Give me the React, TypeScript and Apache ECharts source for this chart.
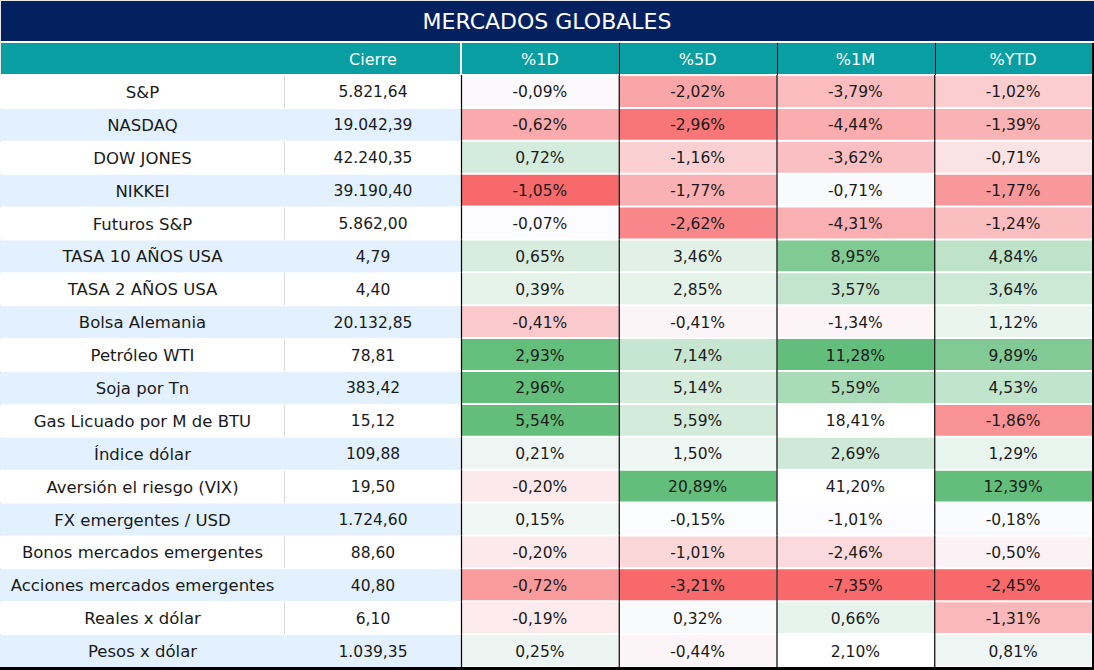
import React, { useEffect, useRef } from "react";
import * as echarts from "echarts";

const titleText = "MERCADOS GLOBALES";
const cierreHeader = ["Cierre"];
const pctHeaders = ["%1D", "%5D", "%1M", "%YTD"];
const names = [
  "S&P",
  "NASDAQ",
  "DOW JONES",
  "NIKKEI",
  "Futuros S&P",
  "TASA 10 AÑOS USA",
  "TASA 2 AÑOS USA",
  "Bolsa Alemania",
  "Petróleo WTI",
  "Soja por Tn",
  "Gas Licuado por M de BTU",
  "Índice dólar",
  "Aversión el riesgo (VIX)",
  "FX emergentes / USD",
  "Bonos mercados emergentes",
  "Acciones mercados emergentes",
  "Reales x dólar",
  "Pesos x dólar",
];
const cierre = [5821.64, 19042.39, 42240.35, 39190.4, 5862.0, 4.79, 4.4, 20132.85, 78.81, 383.42, 15.12, 109.88, 19.5, 1724.6, 88.6, 40.8, 6.1, 1039.35];
const pct1D = [-0.09, -0.62, 0.72, -1.05, -0.07, 0.65, 0.39, -0.41, 2.93, 2.96, 5.54, 0.21, -0.2, 0.15, -0.2, -0.72, -0.19, 0.25];
const pct5D = [-2.02, -2.96, -1.16, -1.77, -2.62, 3.46, 2.85, -0.41, 7.14, 5.14, 5.59, 1.5, 20.89, -0.15, -1.01, -3.21, 0.32, -0.44];
const pct1M = [-3.79, -4.44, -3.62, -0.71, -4.31, 8.95, 3.57, -1.34, 11.28, 5.59, 18.41, 2.69, 41.2, -1.01, -2.46, -7.35, 0.66, 2.1];
const pctYTD = [-1.02, -1.39, -0.71, -1.77, -1.24, 4.84, 3.64, 1.12, 9.89, 4.53, -1.86, 1.29, 12.39, -0.18, -0.5, -2.45, -1.31, 0.81];
const pctColumns = [pct1D, pct5D, pct1M, pctYTD];
// rows left out of each column's colour-scale statistics
const scaleExcluded = [[10], [], [10, 12, 17], []];
// cells without conditional fill
const unfilled = [[], [], [10, 12, 17], []];

const RED = [248, 105, 107];
const MID = [252, 252, 255];
const GREEN = [99, 190, 123];
const FONT = "'DejaVu Sans', sans-serif";
const TEXT = "#1a1a1a";

function mix(a: number[], b: number[], t: number) {
  return `rgb(${a.map((v, i) => Math.round(v + (b[i] - v) * t)).join(",")})`;
}
function median(arr: number[]) {
  const s = [...arr].sort((a, b) => a - b);
  const n = s.length;
  return n % 2 ? s[(n - 1) / 2] : (s[n / 2 - 1] + s[n / 2]) / 2;
}
function colorFor(v: number, lo: number, mid: number, hi: number) {
  if (v <= mid) {
    const t = mid === lo ? 0 : Math.min(1, (mid - v) / (mid - lo));
    return mix(MID, RED, t);
  }
  const t = Math.min(1, (v - mid) / (hi - mid));
  return mix(MID, GREEN, t);
}
function fmtNum(v: number) {
  const [i, d] = Math.abs(v).toFixed(2).split(".");
  const g = i.replace(/\B(?=(\d{3})+(?!\d))/g, ".");
  return (v < 0 ? "-" : "") + g + "," + d;
}

export default function App() {
  const ref = useRef<HTMLDivElement>(null);
  useEffect(() => {
    if (!ref.current) return;
    const chart = echarts.init(ref.current, null, { renderer: "svg" });

    const pctData: any[] = [];
    pctColumns.forEach((col, j) => {
      const inScale = col.filter((_, i) => !scaleExcluded[j].includes(i));
      const lo = Math.min(...inScale);
      const hi = Math.max(...inScale);
      const mid = median(inScale);
      col.forEach((v, i) => {
        const fill = unfilled[j].includes(i) ? "#ffffff" : colorFor(v, lo, mid, hi);
        pctData.push([j, i, v, fill]);
      });
    });

    const stripe = (i: number) => (i % 2 === 1 ? "#E2F1FD" : "#ffffff");

    const textStyle = (x: number, y: number, text: string, size = 16) => ({
      type: "text",
      style: {
        x,
        y,
        text,
        fill: TEXT,
        font: `${size}px ${FONT}`,
        align: "center",
        verticalAlign: "middle",
      },
    });

    const yAxisBase = {
      type: "category",
      data: names,
      inverse: true,
      show: false,
    };
    const headerLabel = {
      color: "#ffffff",
      fontSize: 16,
      fontFamily: FONT,
      margin: 16,
      verticalAlign: "middle",
    };

    chart.setOption({
      animation: false,
      title: {
        text: titleText,
        left: "center",
        top: 5,
        textStyle: { color: "#ffffff", fontSize: 22, fontWeight: "normal", fontFamily: FONT },
      },
      graphic: [
        { type: "rect", z: -10, shape: { x: 0, y: 0, width: 1094, height: 670 }, style: { fill: "#ffffff", stroke: "#d0d0d0", lineWidth: 1 } },
        { type: "rect", z: 0, shape: { x: 1, y: 1, width: 1093, height: 40 }, style: { fill: "#03205F" } },
        { type: "rect", z: 0, shape: { x: 1, y: 43, width: 1091, height: 31 }, style: { fill: "#089EA2" } },
        { type: "rect", z: 0, shape: { x: 460, y: 43, width: 2, height: 31 }, style: { fill: "#ffffff" } },
        { type: "line", z: 100, shape: { x1: 619.5, y1: 43, x2: 619.5, y2: 75 }, style: { stroke: "#000", lineWidth: 1 } },
        { type: "line", z: 100, shape: { x1: 777.5, y1: 43, x2: 777.5, y2: 75 }, style: { stroke: "#000", lineWidth: 1 } },
        { type: "line", z: 100, shape: { x1: 935.5, y1: 43, x2: 935.5, y2: 75 }, style: { stroke: "#000", lineWidth: 1 } },
        { type: "rect", z: 100, shape: { x: 1092, y: 43, width: 2, height: 627 }, style: { fill: "#000" } },
        { type: "rect", z: 100, shape: { x: 0, y: 667, width: 1094, height: 3 }, style: { fill: "#000" } },
      ],
      grid: [
        { left: 0, top: 75, width: 285, height: 592 },
        { left: 285, top: 75, width: 176, height: 592 },
        { left: 461, top: 75, width: 631, height: 592 },
      ],
      xAxis: [
        { type: "category", gridIndex: 0, data: ["name"], show: false },
        {
          type: "category",
          gridIndex: 1,
          data: cierreHeader,
          position: "top",
          axisLine: { show: false },
          axisTick: { show: false },
          axisLabel: headerLabel,
        },
        {
          type: "category",
          gridIndex: 2,
          data: pctHeaders,
          position: "top",
          axisLine: { show: false },
          axisTick: { show: false },
          splitLine: { show: false },
          axisLabel: headerLabel,
        },
      ],
      yAxis: [
        { ...yAxisBase, gridIndex: 0 },
        { ...yAxisBase, gridIndex: 1 },
        { ...yAxisBase, gridIndex: 2 },
      ],
      series: [
        {
          type: "custom",
          xAxisIndex: 0,
          yAxisIndex: 0,
          data: names.map((n, i) => [0, i, n]),
          renderItem: (params: any, api: any) => {
            const i = api.value(1);
            const c = api.coord([0, i]);
            const s = api.size([1, 1]);
            const x = c[0] - s[0] / 2;
            const y = c[1] - s[1] / 2;
            const children: any[] = [
              { type: "rect", shape: { x, y: y + 1, width: s[0], height: s[1] - 1 }, style: { fill: stripe(i) } },
            ];
            if (i % 2 === 0) {
              children.push({ type: "rect", shape: { x: x + s[0] - 1, y: y + 1, width: 1, height: s[1] - 1 }, style: { fill: "#d9d9d9" } });
            }
            children.push(textStyle(c[0], c[1] + 1, names[i], 16.5));
            return { type: "group", children };
          },
        },
        {
          type: "custom",
          xAxisIndex: 1,
          yAxisIndex: 1,
          data: cierre.map((v, i) => [0, i, v]),
          renderItem: (params: any, api: any) => {
            const i = api.value(1);
            const v = api.value(2);
            const c = api.coord([0, i]);
            const s = api.size([1, 1]);
            const x = c[0] - s[0] / 2;
            const y = c[1] - s[1] / 2;
            return {
              type: "group",
              children: [
                { type: "rect", shape: { x, y: y + 1, width: s[0], height: s[1] - 1 }, style: { fill: stripe(i) } },
                textStyle(c[0], c[1] + 1, fmtNum(v), 15.5),
              ],
            };
          },
        },
        {
          type: "custom",
          xAxisIndex: 2,
          yAxisIndex: 2,
          data: pctData,
          renderItem: (params: any, api: any) => {
            const j = api.value(0);
            const i = api.value(1);
            const v = api.value(2);
            const fill = pctData[params.dataIndex][3];
            const c = api.coord([j, i]);
            const s = api.size([1, 1]);
            const x = c[0] - s[0] / 2;
            const y = c[1] - s[1] / 2;
            const children: any[] = [
              { type: "rect", shape: { x: x + 1, y: y + 1, width: s[0] - 1, height: s[1] - 2 }, style: { fill } },
              { type: "line", shape: { x1: x + 0.5, y1: y, x2: x + 0.5, y2: y + s[1] }, style: { stroke: "#000", lineWidth: 1.2 } },
              textStyle(c[0], c[1] + 1, fmtNum(v) + "%", 15.5),
            ];
            return { type: "group", children };
          },
        },
      ],
    });
    return () => chart.dispose();
  }, []);
  return <div ref={ref} style={{ position: "absolute", left: 0, top: 0, width: 1094, height: 670 }} />;
}
